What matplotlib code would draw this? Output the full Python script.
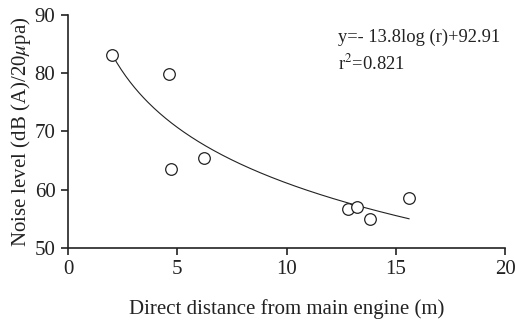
import numpy as np
import matplotlib.pyplot as plt

# measured points
distance = [2.0, 4.6, 4.7, 6.2, 12.8, 13.2, 13.8, 15.6]
noise = [83.2, 79.8, 63.6, 65.5, 56.6, 57.0, 54.9, 58.6]

# fitted curve y = a*ln(r) + b
fit_a = -13.8
fit_b = 92.91
fit_range = [2.1, 15.6]

plt.rcParams['font.family'] = ['Liberation Serif', 'DejaVu Serif']
plt.rcParams['mathtext.fontset'] = 'stix'

fig = plt.figure(figsize=(5.15, 3.27), dpi=100)
ax = fig.add_axes([0.132, 0.242, 0.849, 0.712])

r = np.linspace(fit_range[0], fit_range[1], 200)
ax.plot(r, fit_a * np.log(r) + fit_b, color='#222222', lw=0.8)
ax.scatter(distance, noise, s=70, facecolors='white', edgecolors='#222222', linewidths=0.9, zorder=3)

ax.set_xlim(0, 20)
ax.set_ylim(50, 90)
ax.set_xticks([0, 5, 10, 15, 20])
ax.set_yticks([50, 60, 70, 80, 90])
for side in ['top', 'right']:
    ax.spines[side].set_visible(False)
for side in ['left', 'bottom']:
    ax.spines[side].set_linewidth(1.2)
    ax.spines[side].set_color('#222222')
ax.tick_params(direction='out', length=5, width=1.2, labelsize=15, colors='#222222', pad=4)

ax.set_xlabel('Direct distance from main engine (m)', fontsize=15, labelpad=14, color='#222222')
ax.set_ylabel(r'Noise level (dB (A)/20$\mu$pa)', fontsize=15, color='#222222', labelpad=1)

ax.text(12.35, 85.4, 'y=- 13.8log (r)+92.91', fontsize=13.3, color='#222222')
ax.text(12.35, 80.6, 'r$^2$=0.821', fontsize=13.3, color='#222222')

fig.savefig('out.png', dpi=100)
